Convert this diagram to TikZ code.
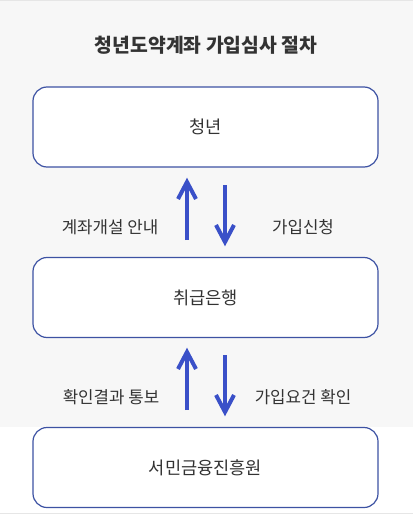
\documentclass[tikz,border=0pt]{standalone}
\usepackage{fontspec}
\newfontfamily\kr{Noto Sans CJK KR}
\usetikzlibrary{calc}
\definecolor{bggray}{HTML}{F7F7F7}
\definecolor{txt}{HTML}{333333}
\definecolor{boxline}{HTML}{3D52A3}
\definecolor{arrblue}{HTML}{3A50C8}
\definecolor{edge}{HTML}{E6E6E6}
\tikzset{
  stage/.style={draw=boxline, line width=0.9pt, fill=white, rounded corners=10.5pt,
    minimum width=258.75pt, minimum height=60pt, inner sep=0pt,
    font=\kr\fontsize{13.2}{15}\selectfont, text=txt},
  lbl/.style={font=\kr\fontsize{12.6}{14}\selectfont, text=txt, inner sep=0pt},
  arr/.style={draw=arrblue, line width=3pt, miter limit=10},
}
\begin{document}
\begin{tikzpicture}[x=0.75pt,y=-0.75pt]
\useasboundingbox (0,0) rectangle (413,524);
\fill[white] (0,0) rectangle (413,524);
\fill[bggray] (0,1) rectangle (413,427);
\draw[edge, line width=0.75pt] (0,0.5) -- (413,0.5);
\draw[edge, line width=0.75pt] (0,513.5) -- (413,513.5);
\node[font=\kr\bfseries\fontsize{14.5}{17}\selectfont, text=txt] (title) at (206,45) {청년도약계좌 가입심사 절차};
\node[stage] (youth) at (205.5,127) {청년};
\node[stage] (bank) at (205.5,297.5) {취급은행};
\node[stage] (agency) at (205.5,467.5) {서민금융진흥원};
% first pair
\coordinate (u1s) at (187,240);
\coordinate (u1t) at (187,182);
\coordinate (d1s) at (225,185);
\coordinate (d1t) at (225,242);
\draw[arr] (u1s) -- (u1t);
\draw[arr] ($(u1t)+(-9,17)$) -- (u1t) -- ($(u1t)+(9,17)$);
\draw[arr] (d1s) -- (d1t);
\draw[arr] ($(d1t)+(-9,-17)$) -- (d1t) -- ($(d1t)+(9,-17)$);
\node[lbl] (l1) at (110,227) {계좌개설 안내};
\node[lbl] (r1) at (303,227) {가입신청};
% second pair
\coordinate (u2s) at (187,410);
\coordinate (u2t) at (187,352);
\coordinate (d2s) at (225,355);
\coordinate (d2t) at (225,412);
\draw[arr] (u2s) -- (u2t);
\draw[arr] ($(u2t)+(-9,17)$) -- (u2t) -- ($(u2t)+(9,17)$);
\draw[arr] (d2s) -- (d2t);
\draw[arr] ($(d2t)+(-9,-17)$) -- (d2t) -- ($(d2t)+(9,-17)$);
\node[lbl] (l2) at (111,397) {확인결과 통보};
\node[lbl] (r2) at (303,397) {가입요건 확인};
\end{tikzpicture}
\end{document}
